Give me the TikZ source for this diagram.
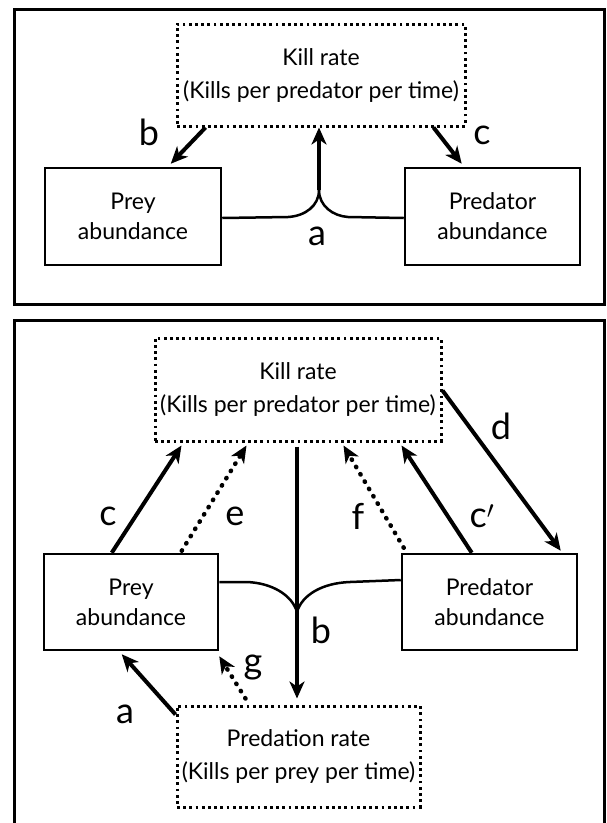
\documentclass[tikz,border=0pt]{standalone}
\usepackage{fontspec}
\setmainfont{Lato}
\usetikzlibrary{arrows.meta,calc}
\tikzset{
  box/.style={draw, line width=2.5pt, inner sep=0pt, align=center, font=\fontsize{23}{30}\selectfont},
  dbox/.style={draw, line width=3pt, dash pattern=on 2.8pt off 3.4pt, inner sep=0pt, align=center, font=\fontsize{23}{33}\selectfont},
  arr/.style={line width=4pt, -{Stealth[length=17pt,width=15pt,inset=5pt]}},
  darr/.style={arr, line cap=round, dash pattern=on 0.5pt off 8pt, line width=4.5pt},
  lab/.style={font=\fontsize{36}{36}\selectfont, inner sep=0pt},
  joinline/.style={line width=2.5pt},
  frame/.style={draw, line width=3pt}
}
\begin{document}
\begin{tikzpicture}[x=1pt,y=-1pt]
\useasboundingbox (0,0) rectangle (607,823);
% ---------- top panel ----------
\draw[frame] (14,9) rectangle (604,304);
\node[dbox, minimum width=288pt, minimum height=102pt] (kill1) at (321,75) {Kill rate\\(Kills per predator per time)};
\node[box, minimum width=176pt, minimum height=97pt] (prey1) at (133,216.5) {Prey\\abundance};
\node[box, minimum width=175pt, minimum height=97pt] (pred1) at (492.5,216.5) {Predator\\abundance};
\coordinate (fork1) at (319,190);
\draw[arr] ($(kill1.south west)+(30,0)$) -- ($(prey1.north west)+(127,-3)$);
\draw[arr] ($(kill1.south west)+(258,0)$) -- ($(pred1.north west)+(58,-3)$);
\draw[joinline] (prey1.east |- 0,218) -- (288,217) .. controls (305,216) and (319,206) .. (fork1);
\draw[joinline] (pred1.west |- 0,218) -- (348,217) .. controls (333,216) and (319,206) .. (fork1);
\draw[arr] (fork1) -- (kill1.south -| fork1);
\node[lab] (lb1) at (149,132) {b};
\node[lab] (lc1) at (482,135) {c};
\node[lab] (la1) at (317,236) {a};
% ---------- bottom panel ----------
\draw[frame] (14,320) rectangle (604,840);
\node[dbox, minimum width=286pt, minimum height=103pt] (kill2) at (298,389.5) {Kill rate\\(Kills per predator per time)};
\node[box, minimum width=174pt, minimum height=96pt] (prey2) at (131,602) {Prey\\abundance};
\node[box, minimum width=175pt, minimum height=96pt] (pred2) at (489.5,602) {Predator\\abundance};
\node[dbox, minimum width=243pt, minimum height=101pt] (rate2) at (298.5,756.5) {Predation rate\\(Kills per prey per time)};
\coordinate (fork2) at (297,612);
\draw[joinline] (prey2.east |- 0,582) -- (247,582) .. controls (272,583) and (292,595) .. (fork2);
\draw[joinline] (pred2.west |- 0,580) -- (350,582) .. controls (322,583) and (302,595) .. (fork2);
\draw[arr] ($(prey2.north west)+(69,0)$) -- ($(kill2.south west)+(28,3)$);
\draw[darr] ($(prey2.north west)+(139,-2)$) -- ($(kill2.south west)+(93,3)$);
\draw[darr] ($(pred2.north west)+(3,-5)$) -- ($(kill2.south west)+(190,3)$);
\draw[arr] ($(pred2.north west)+(71,0)$) -- ($(kill2.south west)+(248,3)$);
\draw[arr] ($(kill2.north east)+(0,54)$) -- ($(pred2.north west)+(160,-2)$);
\draw[arr] ($(kill2.south)+(-1,4)$) -- ($(rate2.north)+(-1.5,-6)$);
\draw[arr] ($(rate2.north west)+(0,10)$) -- ($(prey2.south west)+(79,3)$);
\draw[darr] ($(rate2.north west)+(70,-6)$) -- ($(prey2.south east)+(0,5)$);
\node[lab] (lc2) at (108,516) {c};
\node[lab] (le2) at (235,516) {e};
\node[lab] (lf2) at (358,516) {f};
\node[lab] (lcp2) at (482,516) {c$'$};
\node[lab] (ld2) at (501,426) {d};
\node[lab] (lb2) at (321,630) {b};
\node[lab] (la2) at (125,714) {a};
\node[lab] (lg2) at (253,668) {g};
\end{tikzpicture}
\end{document}
